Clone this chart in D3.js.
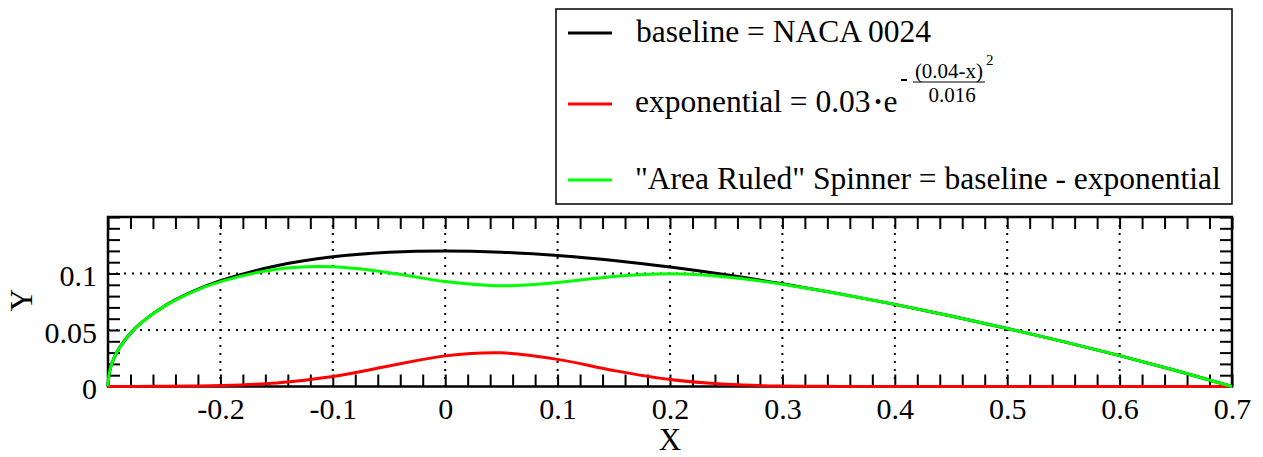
<!DOCTYPE html>
<html>
<head>
<meta charset="utf-8">
<script src="https://cdn.jsdelivr.net/npm/d3@7"></script>
<style>
  body { margin: 0; background: #fff; }
  svg { font-family: "Liberation Serif", "Times New Roman", serif; }
</style>
</head>
<body>
<div id="chart"></div>
<script>
// stations along the spinner (X) and the three profiles
var xs = [-0.3, -0.299, -0.2975, -0.295, -0.29, -0.275, -0.25, -0.225, -0.2, -0.15, -0.1, -0.05,
          0, 0.05, 0.1, 0.15, 0.2, 0.25, 0.3, 0.35, 0.4, 0.45, 0.5, 0.55, 0.6, 0.65, 0.7];
var baseline = [0, 0.0111, 0.0174, 0.0244, 0.0341, 0.0523, 0.0711, 0.0840, 0.0937, 0.1069, 0.1148, 0.1188,
                0.1200, 0.1189, 0.1160, 0.1115, 0.1057, 0.0988, 0.0909, 0.0822, 0.0727, 0.0624, 0.0514, 0.0397, 0.0273, 0.0141, 0];
var exponential = [0, 0, 0, 0, 0, 0.0001, 0.0002, 0.0004, 0.0008, 0.0031, 0.0088, 0.0181,
                   0.0271, 0.0298, 0.0240, 0.0141, 0.0061, 0.0019, 0.0004, 0.0001, 0, 0, 0, 0, 0, 0, 0];
var spinner = [0, 0.0111, 0.0174, 0.0244, 0.0340, 0.0522, 0.0709, 0.0836, 0.0928, 0.1038, 0.1059, 0.1007,
               0.0929, 0.0891, 0.0920, 0.0974, 0.0997, 0.0969, 0.0905, 0.0821, 0.0727, 0.0624, 0.0514, 0.0397, 0.0273, 0.0141, 0];

var xTickLabels = ["-0.2", "-0.1", "0", "0.1", "0.2", "0.3", "0.4", "0.5", "0.6", "0.7"];
var xMajor = [-0.2, -0.1, 0, 0.1, 0.2, 0.3, 0.4, 0.5, 0.6, 0.7];
var yTickLabels = ["0", "0.05", "0.1"];
var yMajor = [0, 0.05, 0.1];

var w = 1263, h = 457;
var pl = 108, pr = 1232, pt = 217, pb = 386.5;

var x = d3.scaleLinear([-0.3, 0.7], [pl, pr]);
var y = d3.scaleLinear([0, 0.15], [pb, pt]);

var svg = d3.select("#chart").append("svg")
    .attr("width", w)
    .attr("height", h);

/* dotted grid */
var grid = svg.append("g")
    .attr("stroke", "#000")
    .attr("stroke-width", 2)
    .attr("stroke-dasharray", "2,6");
grid.selectAll("line.gx")
  .data(xMajor.slice(0, -1))
  .enter().append("line")
    .attr("x1", d => x(d)).attr("x2", d => x(d))
    .attr("y1", pt).attr("y2", pb);
grid.selectAll("line.gy")
  .data(yMajor.slice(1))
  .enter().append("line")
    .attr("y1", d => y(d)).attr("y2", d => y(d))
    .attr("x1", pl).attr("x2", pr);

/* inward ticks on all four sides */
var xMinor = d3.range(0, 51).map(i => -0.3 + i * 0.02);
var yMinor = d3.range(0, 16).map(i => i * 0.01);

function ticks(axis, tr) {
  var g = svg.append("g").attr("transform", tr).call(axis);
  g.select(".domain").remove();
  g.selectAll(".tick line").attr("stroke-width", 2);
  return g;
}
ticks(d3.axisBottom(x).tickValues(xMinor).tickSize(-12).tickFormat(""), "translate(0," + pb + ")");
ticks(d3.axisTop(x).tickValues(xMinor).tickSize(-12).tickFormat(""), "translate(0," + pt + ")");
ticks(d3.axisLeft(y).tickValues(yMinor).tickSize(-12).tickFormat(""), "translate(" + pl + ",0)");
ticks(d3.axisRight(y).tickValues(yMinor).tickSize(-12).tickFormat(""), "translate(" + pr + ",0)");

/* tick labels */
var xl = svg.append("g")
    .attr("transform", "translate(0," + pb + ")")
    .call(d3.axisBottom(x).tickValues(xMajor).tickSize(0).tickPadding(11)
      .tickFormat((d, i) => xTickLabels[i]));
xl.attr("font-family", null).attr("font-size", 30);
xl.select(".domain").remove();
xl.selectAll("text").attr("fill", "#000");

var yl = svg.append("g")
    .attr("transform", "translate(" + pl + ",0)")
    .call(d3.axisLeft(y).tickValues(yMajor).tickSize(0).tickPadding(11)
      .tickFormat((d, i) => yTickLabels[i]));
yl.attr("font-family", null).attr("font-size", 30);
yl.select(".domain").remove();
yl.selectAll("text").attr("fill", "#000").attr("dy", "0.4em");

/* frame */
svg.append("rect")
    .attr("x", pl).attr("y", pt)
    .attr("width", pr - pl).attr("height", pb - pt)
    .attr("fill", "none").attr("stroke", "#000").attr("stroke-width", 2.5);

/* curves */
var line = d3.line()
    .x((d, i) => x(xs[i]))
    .y(d => y(d))
    .curve(d3.curveCatmullRom);

var series = [
  {values: baseline, color: "#000"},
  {values: exponential, color: "#f00"},
  {values: spinner, color: "#0f0"}
];
svg.selectAll("path.curve")
  .data(series)
  .enter().append("path")
    .attr("class", "curve")
    .attr("fill", "none")
    .attr("stroke", d => d.color)
    .attr("stroke-width", 3)
    .attr("d", d => line(d.values));

/* axis titles */
svg.append("text")
    .attr("x", 670).attr("y", 450)
    .attr("text-anchor", "middle")
    .attr("font-size", 31)
    .text("X");
svg.append("text")
    .attr("transform", "translate(32,300) rotate(-90)")
    .attr("text-anchor", "middle")
    .attr("font-size", 31)
    .text("Y");

/* legend */
var lg = svg.append("g");
lg.append("rect")
    .attr("x", 556).attr("y", 9)
    .attr("width", 676).attr("height", 195)
    .attr("fill", "#fff").attr("stroke", "#000").attr("stroke-width", 1.5);

var rows = [
  {y: 33, color: "#000"},
  {y: 104, color: "#f00"},
  {y: 180, color: "#0f0"}
];
lg.selectAll("line.key")
  .data(rows)
  .enter().append("line")
    .attr("x1", 568).attr("x2", 612)
    .attr("y1", d => d.y).attr("y2", d => d.y)
    .attr("stroke", d => d.color)
    .attr("stroke-width", 3);

lg.append("text").attr("x", 636).attr("y", 42).attr("font-size", 31.5)
    .text("baseline = NACA 0024");
var et = lg.append("text").attr("x", 635).attr("y", 112).attr("font-size", 31.5);
et.append("tspan").text("exponential = 0.03");
et.append("tspan").attr("font-size", 20).attr("dx", 4).attr("dy", -3).text("\u2022");
et.append("tspan").attr("dx", 2).attr("dy", 3).text("e");
lg.append("text").attr("x", 635).attr("y", 189).attr("font-size", 31.5)
    .text("\"Area Ruled\" Spinner = baseline - exponential");

// exponent: -(0.04-x)^2 / 0.016
var ex = lg.append("g").attr("font-size", 21);
ex.append("line").attr("x1", 901).attr("x2", 907).attr("y1", 80).attr("y2", 80)
    .attr("stroke", "#000").attr("stroke-width", 2);
ex.append("text").attr("x", 949).attr("y", 78).attr("text-anchor", "middle").text("(0.04-x)");
ex.append("text").attr("x", 986).attr("y", 65).attr("font-size", 15).text("2");
ex.append("line").attr("x1", 913).attr("x2", 985).attr("y1", 82).attr("y2", 82)
    .attr("stroke", "#000").attr("stroke-width", 1.2);
ex.append("text").attr("x", 952).attr("y", 102).attr("text-anchor", "middle").text("0.016");
</script>
</body>
</html>
